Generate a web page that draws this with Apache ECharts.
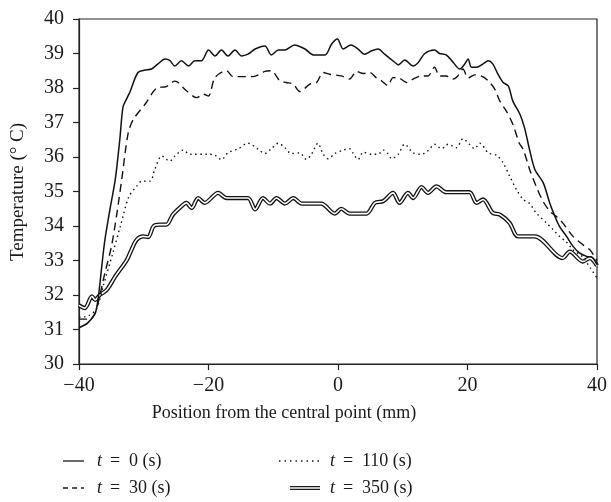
<!DOCTYPE html>
<html>
<head>
<meta charset="utf-8">
<script src="https://cdn.jsdelivr.net/npm/echarts@6/dist/echarts.min.js"></script>
<style>
html,body{margin:0;padding:0;background:#fff;}
#chart{width:611px;height:502px;}
</style>
</head>
<body>
<div id="chart"></div>
<script>
// t = 0 s (solid)
var x0 = [-40,-38.6,-37.5,-37.0,-36.5,-36.0,-35.2,-34.4,-33.7,-33.2,-32.6,-32.1,-30.9,-29.8,-28.8,-27.8,-26.7,-26.0,-25.2,-24.2,-23.1,-22.1,-21.1,-20.0,-19.0,-18.0,-17.0,-15.9,-14.9,-13.9,-12.8,-11.3,-10.3,-9.2,-8.2,-6.7,-5.1,-3.8,-2.0,-1.0,-0.1,0.8,2.0,3.1,4.1,5.2,6.2,7.2,8.8,9.3,10.3,11.6,12.4,13.4,14.9,15.7,16.7,17.8,18.8,19.6,20.1,20.6,21.4,22.4,23.2,23.9,24.7,25.5,26.3,27.0,28.1,28.8,29.6,30.4,31.7,32.7,33.5,34.2,35.3,36.3,37.3,38.4,39.2,40];
var t0 = [31.05,31.2,31.47,31.96,32.8,33.6,34.5,35.35,36.5,37.45,37.7,37.9,38.45,38.52,38.55,38.7,38.84,38.8,38.64,38.79,38.64,38.79,38.79,39.1,38.93,39.1,38.93,39.1,38.93,38.98,39.13,39.22,38.96,39.1,39.1,39.25,39.13,38.96,38.96,39.27,39.42,39.13,39.25,39.13,38.98,39.08,39.13,38.98,38.74,38.67,38.81,38.64,38.74,39.0,39.1,39.0,38.96,38.74,38.55,38.7,38.84,38.6,38.6,38.7,38.79,38.7,38.4,38.16,38.06,37.62,37.24,36.85,36.2,35.64,35.25,34.67,34.28,33.99,33.7,33.41,33.22,33.12,33.1,32.88];
// t = 30 s (dashed)
var x30 = [-40,-38.4,-37.5,-36.0,-35.0,-34.2,-33.4,-32.4,-31.6,-29.6,-28.0,-26.5,-25.2,-23.4,-21.8,-20.8,-20.0,-19.0,-17.2,-16.2,-13.1,-11.3,-10.3,-9.0,-8.0,-6.9,-5.9,-4.35,-3.3,-2.3,-1.3,0.5,1.8,2.85,3.9,4.9,5.9,6.7,7.7,8.5,9.5,10.6,11.6,12.9,13.9,14.9,15.7,16.7,17.8,18.5,19.3,20.1,21.1,22.1,23.2,24.2,25.0,26.0,27.0,28.0,28.6,29.6,30.6,31.65,32.7,33.7,34.7,36.3,37.8,38.9,40];
var t30 = [31.3,31.3,31.47,32.64,33.4,34.3,35.35,36.7,37.09,37.58,38.0,38.04,38.2,37.92,37.72,37.82,37.77,38.3,38.5,38.33,38.33,38.48,38.5,38.21,38.16,38.11,37.9,38.11,38.16,38.45,38.4,38.35,38.26,38.48,38.42,38.45,38.3,38.21,38.07,38.3,38.28,38.16,38.26,38.35,38.35,38.6,38.35,38.35,38.26,38.35,38.55,38.29,38.38,38.35,38.21,37.97,37.62,37.33,36.95,36.4,36.22,35.64,35.15,34.72,34.43,34.28,34.09,33.7,33.46,33.31,33.0];
// t = 110 s (dotted)
var x110 = [-40,-38.5,-37.3,-36.2,-34.8,-33.6,-32.3,-31.1,-30.3,-29.0,-28.3,-27.2,-26.0,-25.2,-23.9,-22.9,-20.0,-19.0,-18.0,-17.0,-15.4,-13.9,-12.3,-11.3,-10.3,-9.2,-8.2,-7.2,-5.9,-4.9,-4.1,-3.1,-2.3,-1.5,-0.5,0.8,1.8,2.3,3.1,3.9,5.2,6.2,7.0,7.7,8.3,9.3,10.3,11.6,12.9,14.0,14.9,16.0,17.0,18.3,19.3,20.3,21.1,21.9,23.2,24.5,25.5,26.5,27.55,28.6,29.6,30.6,32.2,33.2,34.2,35.3,36.3,37.8,38.9,40];
var t110 = [31.35,31.4,31.6,32.3,33.2,34.0,34.85,35.15,35.3,35.3,35.64,36.03,35.88,36.03,36.2,36.08,36.08,36.05,35.92,36.12,36.24,36.4,36.22,36.1,36.24,36.4,36.27,36.1,36.12,35.93,36.08,36.4,36.08,35.95,36.1,36.2,36.24,36.12,35.93,36.14,36.08,36.08,36.2,36.1,35.95,36.08,36.37,36.12,36.08,36.2,36.37,36.24,36.37,36.27,36.53,36.37,36.24,36.4,36.12,36.05,35.83,35.45,35.06,34.77,34.65,34.38,34.09,33.9,33.7,33.53,33.31,33.1,32.8,32.5];
// t = 350 s (double line)
var x350 = [-40,-39.1,-38.0,-37.5,-36.8,-35.7,-34.4,-32.6,-31.9,-31.1,-30.1,-29.3,-28.5,-27.5,-26.5,-25.5,-24.2,-23.4,-22.6,-21.6,-20.6,-18.5,-17.2,-13.9,-12.8,-11.6,-10.5,-9.5,-8.2,-6.9,-5.6,-2.6,-0.5,0.5,1.8,4.4,5.7,7.0,8.5,9.5,10.8,11.6,12.9,13.9,15.2,16.7,20.3,21.4,22.4,23.9,25.0,26.5,27.8,30.4,34.7,35.8,37.8,38.9,40];
var t350 = [31.7,31.62,31.96,31.86,32.0,32.15,32.54,33.02,33.31,33.6,33.7,33.68,33.99,34.04,34.04,34.33,34.57,34.67,34.52,34.81,34.67,34.96,34.81,34.81,34.48,34.81,34.65,34.81,34.65,34.81,34.65,34.65,34.36,34.5,34.36,34.36,34.67,34.72,34.96,34.67,34.96,34.81,35.13,34.96,35.15,34.98,34.98,34.67,34.77,34.38,34.33,34.09,33.7,33.7,33.07,33.26,32.97,33.07,32.85];

var xTicks = [-40,-20,0,20,40];
var yTicks = [30,31,32,33,34,35,36,37,38,39,40];
var legendNames = ['0','30','110','350'];

function pairs(xs, ys){ return xs.map(function(x,i){ return [x, ys[i]]; }); }

var FONT = 'Liberation Serif';
var INK = '#1a1a1a';
var chart = echarts.init(document.getElementById('chart'), null, {renderer:'canvas'});

function lineSeries(name, xs, ys, style, z){
  return {
    name: name, type: 'line', data: pairs(xs, ys), showSymbol: false, symbol: 'none',
    smooth: 0.3, z: z || 2, lineStyle: style, emphasis: {disabled: true}, animation: false
  };
}

function legendText(x, y, val){
  return [
    {type:'text', x:x, y:y, style:{text:'t', font:'italic 18px "'+FONT+'"', fill:INK, textVerticalAlign:'middle'}},
    {type:'text', x:x+13, y:y, style:{text:'=', font:'18px "'+FONT+'"', fill:INK, textVerticalAlign:'middle'}},
    {type:'text', x:x+32, y:y, style:{text:val+' (s)', font:'18px "'+FONT+'"', fill:INK, textVerticalAlign:'middle'}}
  ];
}

var graphics = [
  {type:'text', x:284, y:413, style:{text:'Position from the central point (mm)', font:'18px "'+FONT+'"', fill:INK, textAlign:'center', textVerticalAlign:'middle'}},
  {type:'text', x:18, y:192, rotation:Math.PI/2, style:{text:'Temperature (\u00B0\u2005C)', font:'19px "'+FONT+'"', fill:INK, textAlign:'center', textVerticalAlign:'middle'}},
  {type:'line', shape:{x1:63,y1:461,x2:84,y2:461}, style:{stroke:INK, lineWidth:1.3}},
  {type:'line', shape:{x1:63,y1:488,x2:84,y2:488}, style:{stroke:INK, lineWidth:1.3, lineDash:[5,4]}},
  {type:'line', shape:{x1:279,y1:461,x2:320,y2:461}, style:{stroke:INK, lineWidth:1.3, lineDash:[1.5,4]}},
  {type:'line', shape:{x1:290,y1:488,x2:320,y2:488}, style:{stroke:INK, lineWidth:4}},
  {type:'line', shape:{x1:290,y1:488,x2:320,y2:488}, style:{stroke:'#fff', lineWidth:1.5}}
].concat(legendText(97,461,legendNames[0]), legendText(97,488,legendNames[1]), legendText(330,461,legendNames[2]), legendText(330,488,legendNames[3]));

chart.setOption({
  animation: false,
  backgroundColor: '#fff',
  grid: {left:79, right:14, top:19, bottom:138, show:true, borderColor:'#222', borderWidth:1.2},
  xAxis: {
    type:'value', min:-40, max:40, interval:20,
    axisLine:{onZero:false, lineStyle:{color:'#222', width:1.2}},
    axisTick:{show:true, inside:false, length:6, lineStyle:{color:'#222', width:1.2}, customValues: xTicks},
    axisLabel:{margin:12, color:INK, fontFamily:FONT, fontSize:20, customValues: xTicks,
      formatter:function(v){ return String(v).replace('-', '\u2212'); }},
    splitLine:{show:false}
  },
  yAxis: {
    type:'value', min:30, max:40, interval:1,
    axisLine:{show:true, onZero:false, lineStyle:{color:'#222', width:1.2}},
    axisTick:{show:true, inside:false, length:6, lineStyle:{color:'#222', width:1.2}, customValues: yTicks},
    axisLabel:{margin:15, color:INK, fontFamily:FONT, fontSize:20, customValues: yTicks},
    splitLine:{show:false}
  },
  series: [
    lineSeries('t = 350 (s) outer', x350, t350, {color:'#111', width:4.2}, 2),
    lineSeries('t = 350 (s)', x350, t350, {color:'#fff', width:1.6}, 3),
    lineSeries('t = 110 (s)', x110, t110, {color:'#111', width:1.4, type:[1.5,3.5]}, 4),
    lineSeries('t = 30 (s)', x30, t30, {color:'#111', width:1.4, type:[8,5]}, 5),
    lineSeries('t = 0 (s)', x0, t0, {color:'#111', width:1.5}, 6)
  ],
  graphic: graphics
});
</script>
</body>
</html>
